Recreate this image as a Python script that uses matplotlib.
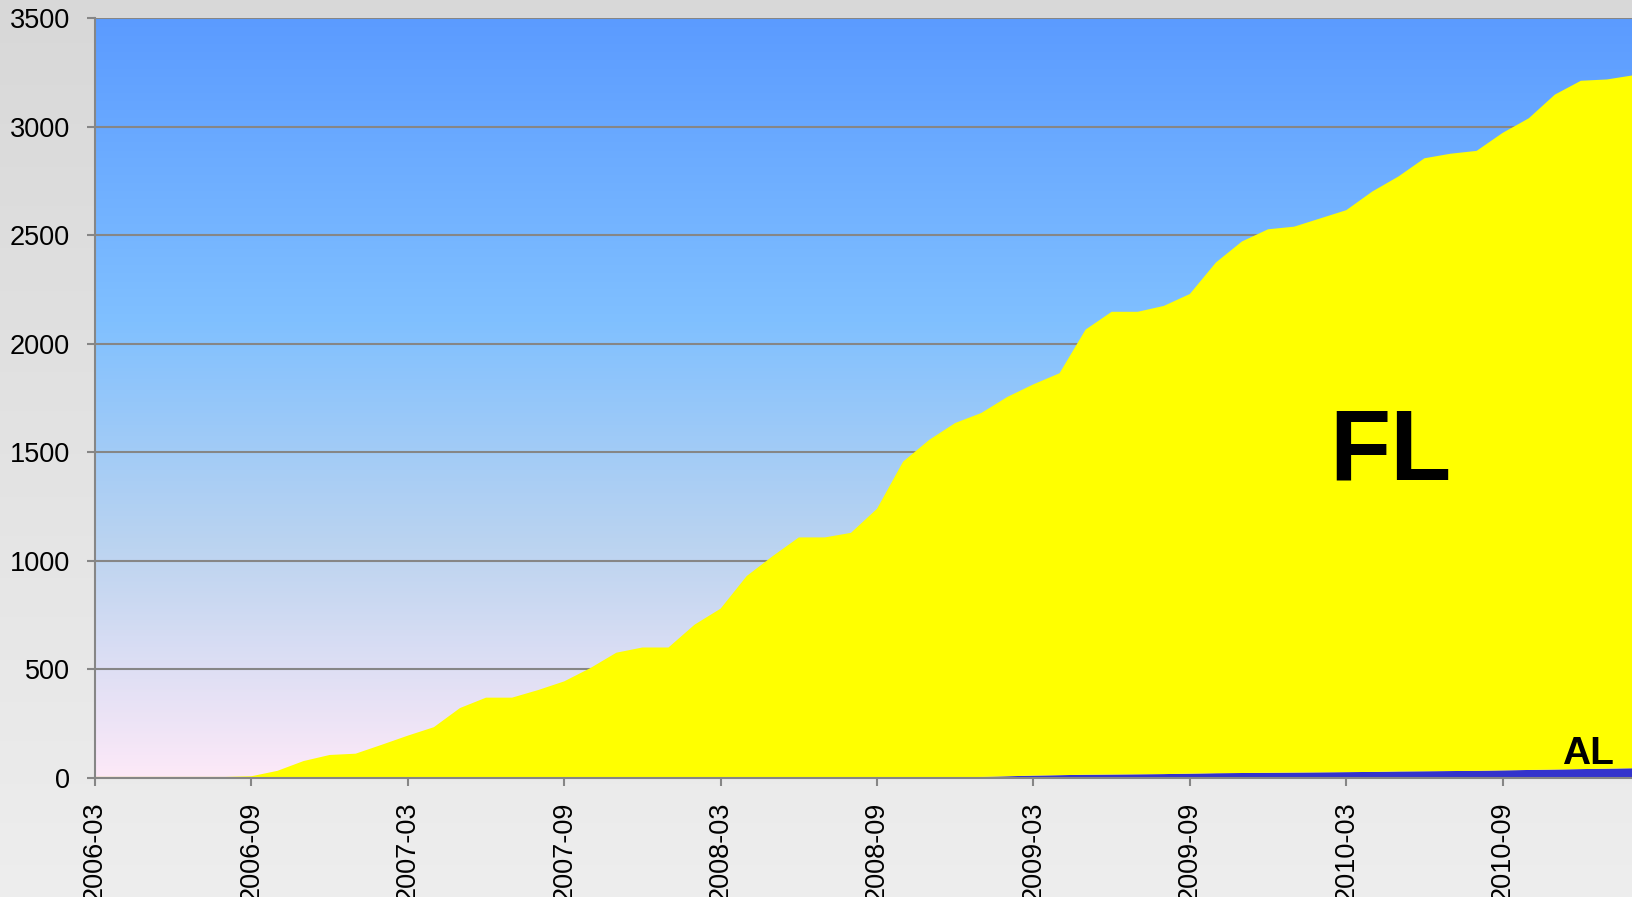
import numpy as np
import matplotlib
matplotlib.use("Agg")
import matplotlib.pyplot as plt
from matplotlib.colors import LinearSegmentedColormap
from matplotlib.patches import Rectangle

# ---- data ----
months = [f"{y}-{m:02d}" for y in range(2006, 2012) for m in range(1, 13)]
months = months[2:2 + 60]  # 2006-03 .. 2011-02

al = [0, 0, 0, 0, 0, 0, 0, 0, 0, 0,
      0, 0, 0, 0, 0, 0, 0, 0, 0, 0,
      0, 0, 0, 0, 0, 0, 0, 0, 0, 0,
      0, 0, 0, 2, 5, 8, 11, 13, 15, 16,
      17, 18, 20, 22, 23, 24, 25, 26, 27, 28,
      30, 31, 32, 33, 35, 37, 39, 41, 43, 45]

fl = [5, 5, 5, 5, 5, 5, 8, 33, 78, 106,
      112, 153, 195, 234, 322, 370, 370, 405, 445, 506,
      577, 601, 601, 706, 780, 930, 1022, 1108, 1108, 1129,
      1240, 1457, 1557, 1633, 1676, 1747, 1802, 1851, 2050, 2131,
      2130, 2156, 2209, 2352, 2448, 2503, 2514, 2551, 2588, 2673,
      2740, 2823, 2843, 2855, 2936, 3001, 3108, 3170, 3174, 3191]

y_ticks = [0, 500, 1000, 1500, 2000, 2500, 3000, 3500]
tick_every = 6

# ---- figure ----
W, H = 1633, 908
fig = plt.figure(figsize=(W / 100, H / 100), dpi=100)
plt.rcParams['font.family'] = ['Liberation Sans', 'DejaVu Sans']

# figure background gradient (gray)
bg = fig.add_axes([0, 0, 1, 1], zorder=-10)
bg_cmap = LinearSegmentedColormap.from_list("bg", ["#d8d8d8", "#eeeeee"])
bg.imshow(np.linspace(0, 1, 256).reshape(-1, 1), aspect="auto", cmap=bg_cmap,
          extent=[0, 1, 0, 1], origin="upper")
bg.set_axis_off()

left = 95 / W
bottom = 1 - 778 / H
top = 1 - 18 / H
ax = fig.add_axes([left, bottom, 1 - left, top - bottom])

# plot-area gradient
pa_cmap = LinearSegmentedColormap.from_list(
    "pa", [(0.0, "#5b9bff"), (0.40, "#80c0ff"), (0.70, "#bcd4f0"), (1.0, "#fde9f8")])
ax.imshow(np.linspace(0, 1, 256).reshape(-1, 1), aspect="auto", cmap=pa_cmap,
          extent=[0, 1, 0, 1], origin="upper", transform=ax.transAxes, zorder=0)

x = np.arange(len(months))
ax.stackplot(x, al, fl, colors=["#3333cc", "#ffff00"], zorder=2, linewidth=0)

ax.set_xlim(0, len(months) - 1)
ax.set_ylim(0, 3500)

gray = "#868686"
ax.set_axisbelow(True)
ax.yaxis.grid(True, color=gray, linewidth=1.5)
ax.set_yticks(y_ticks)
ax.set_yticklabels([str(v) for v in y_ticks])
ax.set_xticks(x[::tick_every])
ax.set_xticklabels(months[::tick_every], rotation=90, va="top", ha="center")

for s in ["top", "right"]:
    ax.spines[s].set_visible(False)
for s in ["left", "bottom"]:
    ax.spines[s].set_color(gray)
    ax.spines[s].set_linewidth(1.5)
    ax.spines[s].set_zorder(3)

ax.tick_params(axis="y", length=6, width=1.5, color=gray, pad=12, labelsize=19.5)
ax.tick_params(axis="x", length=6, width=1.5, color=gray, pad=11, labelsize=19.5)

# series labels
fig.text(1329 / W, 1 - 479 / H, "FL", fontsize=72, fontweight="bold",
         ha="left", va="baseline", color="black")
fig.text(1562 / W, 1 - 764 / H, "AL", fontsize=28, fontweight="bold",
         ha="left", va="baseline", color="black")

# white strip at the very bottom
fig.patches.append(Rectangle((0, 0), 1, 11 / H, transform=fig.transFigure,
                             facecolor="white", edgecolor="none", zorder=100))

fig.savefig("out.png", dpi=100)
